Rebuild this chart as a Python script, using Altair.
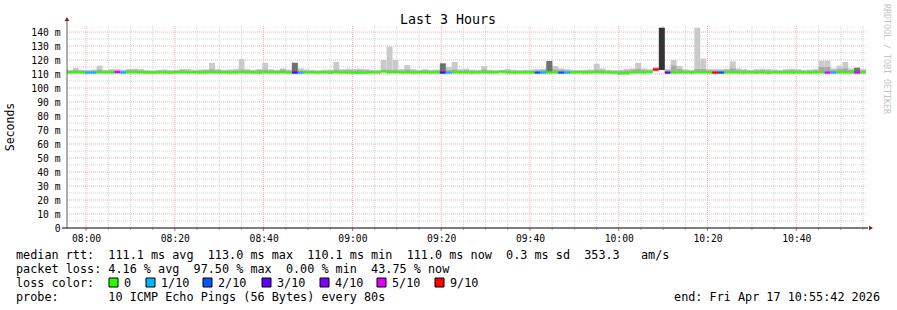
import altair as alt
import pandas as pd

# ---------------- data ----------------
START_MIN = -4.3          # first step starts 07:55:42 (minutes relative to 08:00)
STEP_MIN = 80 / 60        # one probe step = 80 s

median_ms = [
    111.1, 111.2, 111.1, 111.0, 111.0, 111.2, 111.1, 111.1, 111.3, 111.0,
    111.1, 111.2, 111.1, 111.0, 111.0, 111.1, 111.1, 111.0, 111.1, 111.2,
    111.1, 111.1, 111.0, 111.1, 111.2, 111.1, 111.1, 111.0, 111.1, 111.3,
    111.1, 111.1, 111.0, 111.2, 111.1, 111.1, 111.2, 111.0, 111.0, 111.0,
    111.1, 111.1, 111.0, 111.1, 111.0, 111.2, 111.1, 111.0, 110.9, 110.9,
    111.0, 111.1, 111.1, 111.8, 111.2, 111.2, 111.1, 111.1, 111.0, 111.1,
    111.1, 111.0, 111.1, 111.0, 111.0, 111.2, 111.1, 111.1, 111.0, 111.1,
    111.2, 111.1, 111.1, 111.6, 111.1, 111.0, 111.1, 111.1, 111.0, 111.0,
    111.0, 111.1, 111.1, 111.0, 111.0, 111.1, 111.1, 111.0, 111.1, 111.2,
    111.1, 111.1, 111.0, 110.4, 110.5, 111.1, 111.2, 111.1, 111.4, 113.3,
    None, 111.0, 111.1, 111.1, 111.1, 111.0, 111.2, 111.2, 111.1, 111.0,
    111.0, 111.1, 111.1, 111.1, 111.0, 111.1, 111.0, 111.1, 110.9, 111.0,
    111.1, 111.1, 111.0, 111.1, 111.1, 111.0, 111.1, 111.2, 111.0, 111.0,
    111.1, 111.1, 111.1, 111.0, 111.1,
]

smoke_min_ms = [
    110.8, 110.9, 110.8, 110.7, 110.7, 110.9, 110.8, 110.8, 111.0, 110.7,
    110.8, 110.9, 110.8, 110.7, 110.7, 110.8, 110.8, 110.7, 110.8, 110.9,
    110.8, 110.8, 110.7, 110.8, 110.9, 110.8, 110.8, 110.7, 110.8, 111.0,
    110.8, 110.8, 110.7, 110.9, 110.8, 110.8, 110.9, 110.7, 110.7, 110.7,
    110.8, 110.8, 110.7, 110.8, 110.7, 110.9, 110.8, 110.7, 110.6, 110.6,
    110.7, 110.8, 110.8, 111.5, 110.9, 110.9, 110.8, 110.8, 110.7, 110.8,
    110.8, 110.7, 110.8, 110.7, 110.7, 110.9, 110.8, 110.8, 110.7, 110.8,
    110.9, 110.8, 110.8, 111.3, 110.8, 110.7, 110.8, 110.8, 110.7, 110.7,
    110.7, 110.8, 110.8, 110.7, 110.7, 110.8, 110.8, 110.7, 110.8, 110.9,
    110.8, 110.8, 110.7, 110.1, 110.2, 110.8, 110.9, 110.8, 111.1, 112.0,
    112.9, 110.7, 110.8, 110.8, 110.8, 110.7, 110.9, 110.9, 110.8, 110.7,
    110.7, 110.8, 110.8, 110.8, 110.7, 110.8, 110.7, 110.8, 110.6, 110.7,
    110.8, 110.8, 110.7, 110.8, 110.8, 110.7, 110.8, 110.9, 110.7, 110.7,
    110.8, 110.8, 110.8, 110.7, 110.8,
]

smoke_mid_ms = [
    112.4, 112.8, 112.5, 112.3, 112.4, 113.0, 112.5, 112.6, 112.8, 112.3,
    112.8, 113.0, 112.6, 112.3, 112.2, 112.4, 112.5, 112.3, 112.4, 112.8,
    112.6, 112.4, 112.5, 112.6, 113.2, 112.8, 112.4, 112.5, 112.6, 113.0,
    112.8, 112.4, 112.8, 113.0, 112.6, 112.4, 113.2, 112.4, 112.6, 112.6,
    112.4, 112.3, 112.2, 112.4, 112.5, 113.0, 112.6, 112.8, 112.6, 112.8,
    112.6, 112.4, 112.3, 113.0, 113.0, 113.0, 112.6, 113.2, 112.6, 112.4,
    112.6, 112.4, 112.5, 113.0, 112.8, 113.2, 112.6, 112.8, 112.4, 112.4,
    113.2, 112.4, 112.3, 112.4, 112.6, 112.4, 112.3, 112.4, 112.5, 112.6,
    112.8, 116.0, 113.2, 113.0, 112.6, 112.4, 112.3, 112.4, 112.5, 113.0,
    112.8, 112.4, 112.3, 112.4, 112.6, 113.0, 113.5, 112.8, 112.6, 113.0,
    112.9, 112.8, 116.0, 113.5, 112.6, 112.4, 113.5, 113.5, 112.6, 112.6,
    112.6, 112.8, 114.0, 112.8, 112.6, 112.4, 112.6, 112.8, 112.6, 112.5,
    112.4, 112.6, 112.8, 112.6, 112.4, 112.5, 112.6, 115.0, 115.0, 112.8,
    113.5, 114.0, 112.8, 112.6, 112.6,
]

smoke_max_ms = [
    113.0, 114.3, 113.0, 112.8, 113.2, 116.0, 113.0, 113.5, 113.5, 113.0,
    113.5, 113.8, 113.5, 112.8, 112.6, 113.0, 113.2, 112.8, 113.0, 113.6,
    113.5, 113.0, 113.2, 113.4, 118.0, 113.5, 113.0, 113.2, 113.5, 120.7,
    113.5, 113.0, 113.6, 118.0, 113.5, 113.0, 114.0, 113.2, 118.0, 114.0,
    113.2, 113.0, 112.8, 113.0, 113.2, 118.6, 113.5, 113.8, 113.5, 113.8,
    113.5, 113.0, 112.8, 120.0, 129.5, 120.0, 113.5, 116.4, 113.5, 113.0,
    113.5, 113.0, 113.2, 117.6, 115.0, 118.6, 113.5, 113.8, 113.2, 113.0,
    115.7, 113.0, 112.8, 113.0, 113.5, 113.0, 112.8, 113.0, 113.2, 113.5,
    113.8, 119.3, 115.7, 114.0, 113.5, 113.0, 112.8, 113.0, 113.2, 117.4,
    114.0, 113.0, 112.8, 113.0, 113.5, 114.0, 118.0, 114.0, 113.5, 115.0,
    143.1, 113.5, 120.0, 115.7, 113.5, 113.0, 143.1, 121.0, 113.5, 113.5,
    113.5, 113.8, 119.0, 114.0, 113.5, 113.0, 113.5, 113.8, 113.5, 113.2,
    113.0, 113.5, 113.8, 113.5, 113.0, 113.2, 113.5, 119.5, 119.5, 114.0,
    116.0, 118.6, 114.0, 114.5, 113.5,
]

# dense (dark) smoke: only a few steps
dark_steps = [38, 63, 81, 100, 133]
dark_top_ms = [118.0, 117.6, 119.3, 143.1, 114.5]

# packet loss per step, in tenths (10 pings per step)
loss_steps = [3, 4, 8, 9, 38, 39, 63, 64, 79, 80, 83, 84, 99, 101, 109, 110, 128, 129, 133]
loss_tenths = [1, 1, 5, 1, 3, 1, 3, 1, 2, 1, 2, 1, 9, 3, 9, 2, 5, 1, 5]

loss_levels = [0, 1, 2, 3, 4, 5, 9]
loss_labels = ["0", "1/10", "2/10", "3/10", "4/10", "5/10", "9/10"]
loss_colors = ["#26ff00", "#00b8ff", "#0059ff", "#5e00ff", "#7e00ff", "#dd00ff", "#ff0000"]

y_ticks = list(range(0, 141, 10))
y_minor = list(range(5, 140, 10))
x_major = list(range(0, 161, 20))
x_minor = [m for m in range(0, 176, 5) if m % 20 != 0]

title_text = "Last 3 Hours"
y_title = "Seconds"
watermark = "RRDTOOL / TOBI OETIKER"
legend_lines = [
    "median rtt:  111.1 ms avg  113.0 ms max  110.1 ms min  111.0 ms now  0.3 ms sd  353.3   am/s",
    "packet loss: 4.16 % avg  97.50 % max  0.00 % min  43.75 % now",
    "loss color:",
    "probe:       10 ICMP Echo Pings (56 Bytes) every 80s",
]
end_text = "end: Fri Apr 17 10:55:42 2026"

# ---------------- layout ----------------
PL, PT = 67, 26            # plot-area origin in the page
W, H = 799, 202
FONT = "DejaVu Sans Mono"
NB = "\u00a0"

n = len(median_ms)
dark_map = dict(zip(dark_steps, dark_top_ms))
loss_map = dict(zip(loss_steps, loss_tenths))
col_map = dict(zip(loss_levels, loss_colors))
rows = []
for i in range(n):
    t0 = START_MIN + i * STEP_MIN
    med = median_ms[i]
    d = dark_map.get(i)
    rows.append(dict(
        t0=t0, t1=t0 + STEP_MIN,
        lo=smoke_min_ms[i], mid=smoke_mid_ms[i], top=smoke_max_ms[i],
        dark=d, darkcol=("#333333" if (d is not None and d > 130) else "#707070"),
        mlo=(med - 0.8) if med is not None else None,
        mhi=(med + 0.8) if med is not None else None,
        col=col_map[loss_map.get(i, 0)],
    ))
df = pd.DataFrame(rows)

xs = alt.Scale(domain=[START_MIN, START_MIN + 180], nice=False, zero=False)
ys = alt.Scale(domain=[0, 144.3], nice=False, zero=True)

x_label_expr = ("(floor((480+datum.value)/60) < 10 ? '0' : '') + floor((480+datum.value)/60) + ':' + "
                "(((480+datum.value)%60) < 10 ? '0' : '') + ((480+datum.value)%60)")
y_label_expr = "datum.value == 0 ? '0" + NB + NB + "' : datum.value + '" + NB + "m'"

xaxis = alt.Axis(values=x_major, labelExpr=x_label_expr, title=None, grid=False, domain=False,
                 ticks=False, labelFont=FONT, labelFontSize=9.7, labelColor="#000000",
                 labelPadding=5, labelFlush=False, zindex=2)
yaxis = alt.Axis(values=y_ticks, labelExpr=y_label_expr, title=None, grid=False, domain=False,
                 ticks=False, labelFont=FONT, labelFontSize=9.7, labelColor="#000000",
                 labelPadding=7, zindex=2)

base = alt.Chart(df)

# grid
g_hmin = alt.Chart(pd.DataFrame({"v": y_minor})).mark_rule(
    color="#d4d4d4", strokeDash=[1, 1], strokeWidth=1).encode(
    y=alt.Y("v:Q", scale=ys, axis=yaxis))
g_hmaj = alt.Chart(pd.DataFrame({"v": y_ticks[1:]})).mark_rule(
    color="#efb0b0", strokeDash=[1, 1], strokeWidth=1).encode(
    y=alt.Y("v:Q", scale=ys, axis=yaxis))
g_vmin = alt.Chart(pd.DataFrame({"v": x_minor})).mark_rule(
    color="#d4d4d4", strokeDash=[1, 1], strokeWidth=1).encode(
    x=alt.X("v:Q", scale=xs, axis=xaxis))
g_vmaj = alt.Chart(pd.DataFrame({"v": x_major})).mark_rule(
    color="#efb0b0", strokeDash=[1, 1], strokeWidth=1).encode(
    x=alt.X("v:Q", scale=xs, axis=xaxis))

# smoke
smoke_light = base.mark_rect(color="#cacaca").encode(
    x=alt.X("t0:Q", scale=xs, axis=xaxis), x2="t1:Q",
    y=alt.Y("lo:Q", scale=ys, axis=yaxis), y2="top:Q")
smoke_mid = base.mark_rect(color="#a8a8a8").encode(
    x=alt.X("t0:Q", scale=xs, axis=xaxis), x2="t1:Q",
    y=alt.Y("lo:Q", scale=ys, axis=yaxis), y2="mid:Q")
smoke_dark = base.transform_filter("isValid(datum.dark)").mark_rect().encode(
    x=alt.X("t0:Q", scale=xs, axis=xaxis), x2="t1:Q",
    y=alt.Y("lo:Q", scale=ys, axis=yaxis), y2="dark:Q",
    color=alt.Color("darkcol:N", scale=None))
median_line = base.transform_filter("isValid(datum.mlo)").mark_rect().encode(
    x=alt.X("t0:Q", scale=xs, axis=xaxis), x2="t1:Q",
    y=alt.Y("mlo:Q", scale=ys, axis=yaxis), y2="mhi:Q",
    color=alt.Color("col:N", scale=None))

# x axis ticks
t_maj = alt.Chart(pd.DataFrame({"v": x_major})).mark_rule(color="#e06060").encode(
    x=alt.X("v:Q", scale=xs, axis=xaxis), y=alt.value(H), y2=alt.value(H + 3))
t_min = alt.Chart(pd.DataFrame({"v": x_minor})).mark_rule(color="#b0b0b0").encode(
    x=alt.X("v:Q", scale=xs, axis=xaxis), y=alt.value(H), y2=alt.value(H + 2))

one = alt.Chart(pd.DataFrame({"k": [0]}))
y_axis_line = one.mark_rule(color="#606060").encode(
    x=alt.value(0), y=alt.value(-5), y2=alt.value(H))
x_axis_line = one.mark_rule(color="#000000").encode(
    x=alt.value(-5), x2=alt.value(W + 2), y=alt.value(H))
arrow_up = one.mark_point(shape="triangle-up", filled=True, size=22, color="#8b1a1a", opacity=1).encode(
    x=alt.value(0), y=alt.value(-7))
arrow_right = one.mark_point(shape="triangle-right", filled=True, size=22, color="#8b1a1a", opacity=1).encode(
    x=alt.value(W + 5), y=alt.value(H))

# texts
def text_layer(txt, ax, ay, size, align="left", baseline="alphabetic", angle=0, color="#000000"):
    return alt.Chart(pd.DataFrame({"t": [txt]})).mark_text(
        font=FONT, fontSize=size, align=align, baseline=baseline, angle=angle, color=color).encode(
        text="t:N", x=alt.value(ax - PL), y=alt.value(ay - PT))

title_l = text_layer(title_text, 448, 24, 13.3, align="center")
ytitle_l = text_layer(y_title, 11, 127, 11.5, align="center", baseline="middle", angle=270)
wm_l = text_layer(watermark, 886, 59, 8.3, align="center", baseline="middle", angle=90, color="#c4c4c4")

legend_y = [259, 273, 287, 301]
leg_df = pd.DataFrame({
    "t": [s.replace(" ", NB) for s in legend_lines],
    "px": [16 - PL] * 4,
    "py": [y - PT for y in legend_y],
})
leg_l = alt.Chart(leg_df).mark_text(font=FONT, fontSize=11.8, align="left", baseline="alphabetic",
                                    color="#000000").encode(
    text="t:N", x=alt.X("px:Q", scale=None, axis=None), y=alt.Y("py:Q", scale=None, axis=None))
end_l = text_layer(end_text, 880, 301, 11.8, align="right")

box_x = [109, 146, 203, 262, 320, 377, 435]
box_df = pd.DataFrame({
    "x0": [b - PL for b in box_x], "x1": [b + 9 - PL for b in box_x],
    "y0": [278 - PT] * 7, "y1": [287 - PT] * 7,
    "lx": [b + 15 - PL for b in box_x], "ly": [287 - PT] * 7,
    "col": loss_colors, "lab": loss_labels,
})
boxes = alt.Chart(box_df).mark_rect(stroke="#000000", strokeWidth=1).encode(
    x=alt.X("x0:Q", scale=None, axis=None), x2="x1:Q",
    y=alt.Y("y0:Q", scale=None, axis=None), y2="y1:Q",
    color=alt.Color("col:N", scale=None))
box_labels = alt.Chart(box_df).mark_text(font=FONT, fontSize=11.8, align="left",
                                         baseline="alphabetic", color="#000000").encode(
    text="lab:N", x=alt.X("lx:Q", scale=None, axis=None), y=alt.Y("ly:Q", scale=None, axis=None))

chart = alt.layer(
    g_hmin, g_hmaj, g_vmin, g_vmaj,
    smoke_light, smoke_mid, smoke_dark, median_line,
    t_min, t_maj, y_axis_line, x_axis_line, arrow_up, arrow_right,
    title_l, ytitle_l, wm_l, leg_l, end_l, boxes, box_labels,
).properties(
    width=W, height=H,
    padding={"left": PL, "top": PT, "right": 897 - PL - W, "bottom": 310 - PT - H},
    autosize=alt.AutoSizeParams(type="none"),
    background="#ffffff",
).configure_view(stroke=None)

chart.save("out.html", embed_options={"renderer": "svg", "actions": False})
